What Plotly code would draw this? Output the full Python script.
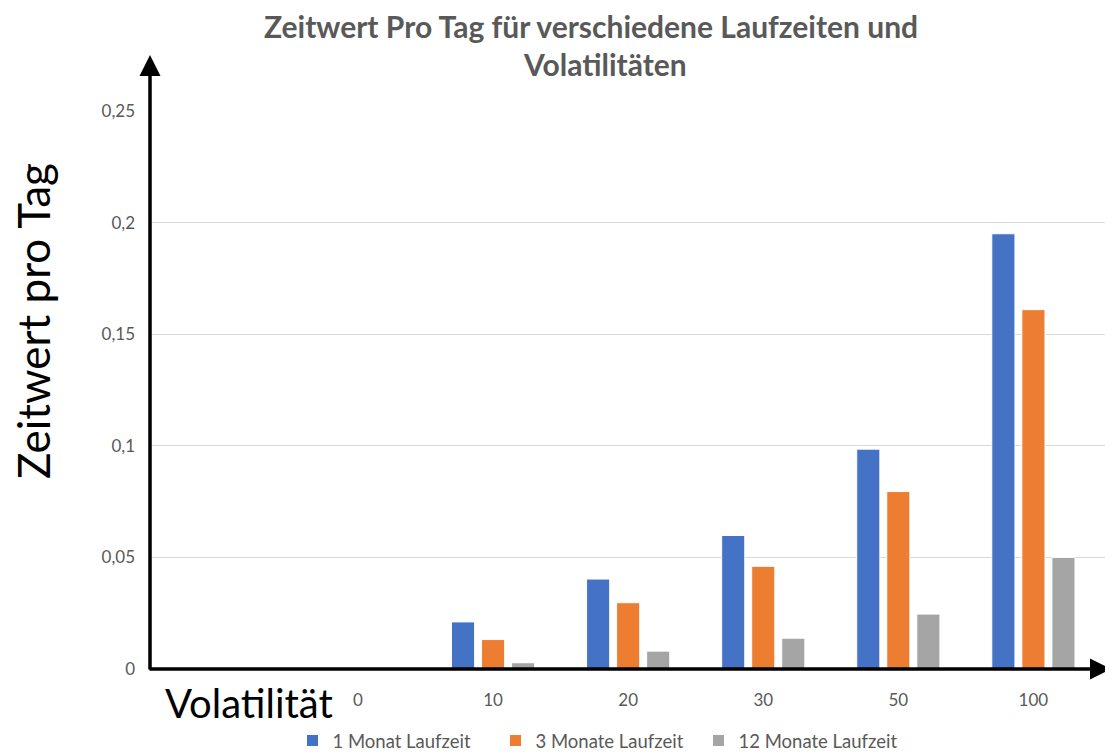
import plotly.graph_objects as go

categories = ["0", "10", "20", "30", "50", "100"]
monat1 = [0, 0.0211, 0.0403, 0.0598, 0.0985, 0.195]
monate3 = [0, 0.0132, 0.0297, 0.046, 0.0795, 0.161]
monate12 = [0, 0.0028, 0.008, 0.0138, 0.0246, 0.0500]
series_names = ["1 Monat Laufzeit", "3 Monate Laufzeit", "12 Monate Laufzeit"]
colors = ["#4472C4", "#ED7D31", "#A5A5A5"]
y_ticks = [0, 0.05, 0.1, 0.15, 0.2, 0.25]
y_ticktext = ["0", "0,05", "0,1", "0,15", "0,2", "0,25"]

FONT = "Lato"
GRAY = "#595959"

# page is rendered with an 8px body offset
fig = go.Figure()
for name, vals, c in zip(series_names, [monat1, monate3, monate12], colors):
    fig.add_trace(go.Bar(
        x=categories, y=vals, name=name,
        marker=dict(color=c, line=dict(color="white", width=1)),
    ))

fig.update_layout(
    width=1105, height=747,
    margin=dict(l=142, r=8, t=103, b=86, autoexpand=False),
    paper_bgcolor="white", plot_bgcolor="white",
    separators=",.",
    barmode="group", bargap=0.333, bargroupgap=0.23,
    font=dict(family=FONT, color=GRAY, size=16),
    showlegend=True,
    legend=dict(orientation="h", x=(597 - 150) / 955, xanchor="center", y=(669 - 722) / 558,
                yanchor="top", font=dict(size=18.5, color=GRAY), itemwidth=30,
                entrywidth=158, traceorder="normal"),
    xaxis=dict(type="category", range=[-1.54, 5.53], showgrid=False, zeroline=False,
               showline=False, ticks="", tickfont=dict(size=17, color=GRAY),
               ticklabelstandoff=19, automargin=False),
    yaxis=dict(range=[0, 0.25], tickvals=y_ticks, ticktext=y_ticktext,
               showgrid=True, gridcolor="#D9D9D9", gridwidth=1.3, zeroline=False, showline=False,
               ticks="", tickfont=dict(size=17, color=GRAY), ticklabelstandoff=14, automargin=False),
)

# Title
fig.add_annotation(text="<b>Zeitwert Pro Tag für verschiedene Laufzeiten und</b>",
                   xref="paper", yref="paper", x=(591 - 150) / 955, y=(669 - 26) / 558, yanchor="middle",
                   showarrow=False, borderpad=0, font=dict(size=30, color=GRAY, family=FONT))
fig.add_annotation(text="<b>Volatilitäten</b>",
                   xref="paper", yref="paper", x=(605 - 150) / 955, y=(669 - 64) / 558, yanchor="middle",
                   showarrow=False, borderpad=0, font=dict(size=30, color=GRAY, family=FONT))

# Axis titles
fig.add_annotation(text="Zeitwert pro Tag", textangle=-90,
                   xref="paper", yref="paper", x=(33 - 150) / 955, y=(669 - 321) / 558,
                   xanchor="center", yanchor="middle", showarrow=False,
                   font=dict(size=44, color="black", family=FONT))
fig.add_annotation(text="Volatilität",
                   xref="paper", yref="paper", x=(163 - 150) / 955, y=(669 - 703) / 558,
                   xanchor="left", yanchor="middle", showarrow=False,
                   font=dict(size=40, color="black", family=FONT))

# Arrow axes
fig.add_annotation(xref="paper", yref="paper", x=0, y=(669 - 55) / 558,
                   ax=0, ay=616, axref="pixel", ayref="pixel", text="",
                   showarrow=True, arrowhead=2, arrowsize=1.2, arrowwidth=3.5, arrowcolor="black")
fig.add_annotation(xref="paper", yref="paper", x=(1111 - 150) / 955, y=0,
                   ax=-963, ay=0, axref="pixel", ayref="pixel", text="",
                   showarrow=True, arrowhead=2, arrowsize=1.2, arrowwidth=3.5, arrowcolor="black")

fig.write_html("out.html")
